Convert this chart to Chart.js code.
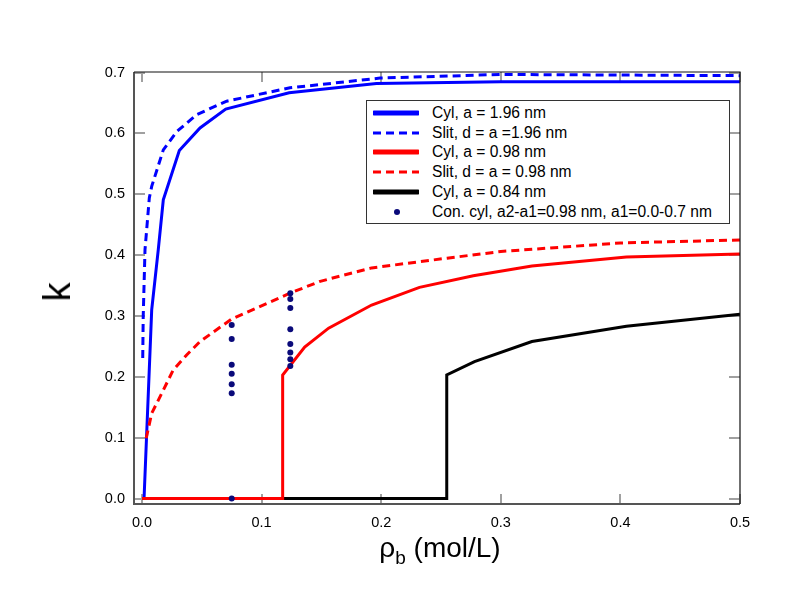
<!DOCTYPE html>
<html><head><meta charset="utf-8">
<script src="https://cdn.jsdelivr.net/npm/chart.js@4"></script>
<style>
html,body{margin:0;padding:0;background:#fff;}
#wrap{position:relative;width:789px;height:610px;font-family:"Liberation Sans",Arial,sans-serif;color:#000;overflow:hidden;}
#c{position:absolute;left:0;top:0;}
#legend{position:absolute;left:366px;top:100px;width:364px;height:124px;border:1px solid #333;box-sizing:border-box;background:#fff;padding-top:2px;}
.row{height:19.8px;display:flex;align-items:center;font-size:15.6px;white-space:nowrap;}
.row svg{margin-left:6px;margin-right:13px;flex:none;}
#xt{position:absolute;left:300px;width:280px;top:532px;text-align:center;font-size:28px;line-height:32px;}
#xt sub{font-size:19px;vertical-align:-7px;line-height:0;}
#yt{position:absolute;left:57px;top:292px;font-size:38px;line-height:40px;transform:translate(-50%,-50%) rotate(-90deg);}
</style>
</head><body>
<div id="wrap">
<canvas id="c" width="789" height="610"></canvas>
<div id="legend"></div>
<div id="xt">ρ<sub>b</sub> (mol/L)</div>
<div id="yt">k</div>
</div>
<script>
// ---- data ----
const xTicks = [0, 0.1, 0.2, 0.3, 0.4, 0.5];
const yTicks = [0, 0.1, 0.2, 0.3, 0.4, 0.5, 0.6, 0.7];

const labels = [
  "Cyl, a = 1.96 nm",
  "Slit, d = a =1.96 nm",
  "Cyl, a = 0.98 nm",
  "Slit, d = a = 0.98 nm",
  "Cyl, a = 0.84 nm",
  "Con. cyl, a2-a1=0.98 nm, a1=0.0-0.7 nm"
];

const cyl196X = [0, 0.0017, 0.0081, 0.0136, 0.0178, 0.0312, 0.0485, 0.070, 0.123, 0.196, 0.30, 0.5];
const cyl196K = [0, 0, 0.310, 0.409, 0.491, 0.572, 0.609, 0.640, 0.667, 0.682, 0.685, 0.685];

const slit196X = [0.0006, 0.001, 0.0025, 0.0061, 0.0081, 0.0178, 0.029, 0.0457, 0.0708, 0.1237, 0.199, 0.30, 0.5];
const slit196K = [0.231, 0.299, 0.409, 0.494, 0.513, 0.573, 0.603, 0.631, 0.653, 0.675, 0.691, 0.697, 0.695];

const cyl098X = [0, 0.1176, 0.1176, 0.136, 0.156, 0.192, 0.232, 0.277, 0.326, 0.405, 0.5];
const cyl098K = [0, 0, 0.203, 0.249, 0.280, 0.318, 0.347, 0.366, 0.382, 0.397, 0.402];

const slit098X = [0.0035, 0.0081, 0.0178, 0.026, 0.0373, 0.0485, 0.075, 0.1237, 0.149, 0.192, 0.255, 0.30, 0.40, 0.5];
const slit098K = [0.099, 0.140, 0.178, 0.211, 0.236, 0.258, 0.295, 0.3375, 0.357, 0.379, 0.395, 0.406, 0.420, 0.425];

const cyl084X = [0, 0.2548, 0.2548, 0.278, 0.326, 0.405, 0.5];
const cyl084K = [0, 0, 0.203, 0.225, 0.258, 0.283, 0.303];

const conX = [0.075, 0.075, 0.075, 0.075, 0.075, 0.075, 0.075,
              0.124, 0.124, 0.124, 0.124, 0.124, 0.124, 0.124, 0.124];
const conK = [0.285, 0.262, 0.220, 0.205, 0.188, 0.173, 0.0,
              0.3375, 0.328, 0.313, 0.278, 0.254, 0.240, 0.229, 0.218];

// ---- build ----
const pts = (xs, ks) => xs.map((x, i) => ({x: x, y: ks[i]}));
const lineDs = (i, xs, ks, color, dash, order) => ({
  label: labels[i], data: pts(xs, ks), borderColor: color, backgroundColor: color,
  borderWidth: 3, borderDash: dash, pointRadius: 0, tension: 0, fill: false, order: order
});

const datasets = [
  lineDs(0, cyl196X, cyl196K, "#0000ff", [], 4),
  lineDs(1, slit196X, slit196K, "#0000ff", [8, 5], 5),
  lineDs(2, cyl098X, cyl098K, "#ff0000", [], 1),
  lineDs(3, slit098X, slit098K, "#ff0000", [8, 5], 2),
  lineDs(4, cyl084X, cyl084K, "#000000", [], 3),
  {label: labels[5], type: "scatter", data: pts(conX, conK), showLine: false,
   pointRadius: 3, pointHoverRadius: 3, pointBorderWidth: 0,
   backgroundColor: "#0a0a7a", borderColor: "#0a0a7a", order: 0}
];

const frameTicks = {
  id: "frameTicks",
  beforeDatasetsDraw(chart) {
    const {ctx, chartArea: a, scales: {x, y}} = chart;
    ctx.save();
    ctx.strokeStyle = "#a0a0a0";
    ctx.lineWidth = 2;
    ctx.beginPath();
    x.ticks.forEach(t => {
      const p = Math.round(x.getPixelForValue(t.value));
      ctx.moveTo(p, a.bottom); ctx.lineTo(p, a.bottom - 10);
      ctx.moveTo(p, a.top); ctx.lineTo(p, a.top + 10);
    });
    y.ticks.forEach(t => {
      const p = Math.round(y.getPixelForValue(t.value));
      ctx.moveTo(a.left, p); ctx.lineTo(a.left + 11, p);
      ctx.moveTo(a.right, p); ctx.lineTo(a.right - 11, p);
    });
    ctx.stroke();
    ctx.restore();
  },
  afterDatasetsDraw(chart) {
    const {ctx, chartArea: a} = chart;
    ctx.save();
    ctx.strokeStyle = "#555";
    ctx.lineWidth = 2;
    ctx.beginPath();
    ctx.moveTo(a.left, a.top); ctx.lineTo(a.left, a.bottom); ctx.lineTo(a.right, a.bottom);
    ctx.stroke();
    ctx.strokeStyle = "#111";
    ctx.lineWidth = 1.2;
    ctx.beginPath();
    ctx.moveTo(a.left, a.top); ctx.lineTo(a.right, a.top); ctx.lineTo(a.right, a.bottom);
    ctx.stroke();
    ctx.restore();
  }
};

const tickFont = {family: "'Liberation Sans', Arial, sans-serif", size: 14.5};

const chart = new Chart(document.getElementById("c"), {
  type: "line",
  data: {datasets: datasets},
  options: {
    responsive: false, animation: false, devicePixelRatio: 1,
    layout: {padding: {top: 72, right: 49, left: 0, bottom: 0}},
    plugins: {legend: {display: false}, tooltip: {enabled: false}, title: {display: false}},
    scales: {
      x: {
        type: "linear", min: -0.0067, max: 0.5,
        afterBuildTicks: s => { s.ticks = xTicks.map(v => ({value: v})); },
        afterFit: s => { s.height = 106; },
        grid: {display: false, drawTicks: false}, border: {display: false},
        ticks: {font: tickFont, color: "#000", padding: 10, maxRotation: 0,
                callback: v => Number(v).toFixed(1)}
      },
      y: {
        type: "linear", min: -0.009, max: 0.701,
        afterBuildTicks: s => { s.ticks = yTicks.map(v => ({value: v})); },
        afterFit: s => { s.width = 134; },
        grid: {display: false, drawTicks: false}, border: {display: false},
        ticks: {font: tickFont, color: "#000", padding: 9,
                callback: v => Number(v).toFixed(1)}
      }
    }
  },
  plugins: [frameTicks]
});

// ---- HTML legend from datasets ----
const lg = document.getElementById("legend");
chart.data.datasets.forEach(ds => {
  const row = document.createElement("div");
  row.className = "row";
  let sample;
  if (ds.showLine === false) {
    sample = `<svg width="46" height="10"><circle cx="24" cy="5" r="3" fill="${ds.backgroundColor}"/></svg>`;
  } else if (ds.borderDash && ds.borderDash.length) {
    sample = `<svg width="46" height="10"><line x1="0" y1="5" x2="46" y2="5" stroke="${ds.borderColor}" stroke-width="3" stroke-dasharray="8 5"/></svg>`;
  } else {
    sample = `<svg width="46" height="10"><line x1="1" y1="5" x2="45" y2="5" stroke="${ds.borderColor}" stroke-width="5" stroke-linecap="round"/></svg>`;
  }
  row.innerHTML = sample + `<span>${ds.label}</span>`;
  lg.appendChild(row);
});
</script>
</body></html>
